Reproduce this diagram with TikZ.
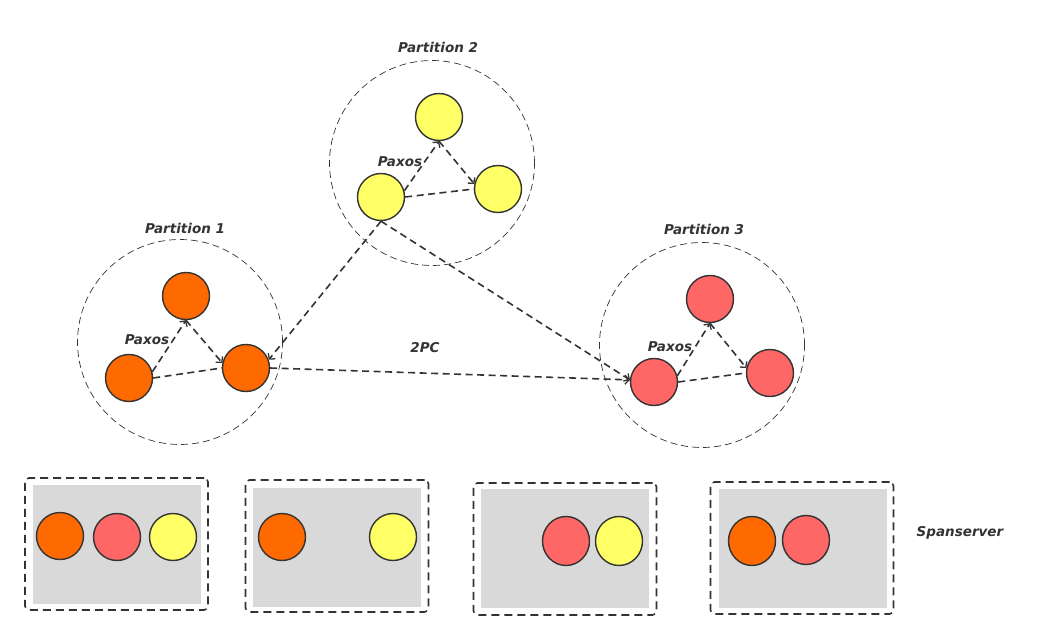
\documentclass[tikz,border=0pt]{standalone}
\usepackage{fontspec}
\setmainfont{DejaVu Sans}
\usetikzlibrary{arrows.meta,shapes.geometric}
\definecolor{cOrange}{HTML}{FF6A00}
\definecolor{cRed}{HTML}{FF6666}
\definecolor{cYellow}{HTML}{FFFF66}
\definecolor{cGray}{HTML}{D9D9D9}
\definecolor{cInk}{HTML}{333333}
\begin{document}
\begin{tikzpicture}[x=1pt,y=-1pt,
  rep/.style={circle,draw=cInk,line width=1.4pt,minimum size=47pt,inner sep=0pt},
  orng/.style={rep,fill=cOrange},
  redn/.style={rep,fill=cRed},
  yell/.style={rep,fill=cYellow},
  ovl/.style={ellipse,draw=cInk,line width=1.4pt,minimum width=47pt,minimum height=49pt,inner sep=0pt},
  part/.style={circle,draw=cInk,line width=0.7pt,dash pattern=on 7pt off 4pt,minimum size=205pt,inner sep=0pt},
  lbl/.style={font=\fontsize{13.5}{15}\selectfont\bfseries\itshape,text=cInk},
  flow/.style={draw=cInk,line width=1.6pt,dash pattern=on 7pt off 4.5pt},
  tip/.style={-{Straight Barb[length=4pt,width=9pt,line width=1.3pt]}},
  outbox/.style={draw=cInk,line width=1.6pt,dash pattern=on 8pt off 5pt,rounded corners=4pt,minimum width=183pt,minimum height=132pt,inner sep=0pt},
  inbox/.style={fill=cGray,minimum width=168pt,minimum height=119pt,inner sep=0pt}]
\useasboundingbox (0,0) rectangle (1044,639);

% partitions
\node[part] (P1) at (180,342) {};
\node[part] (P2) at (432,163) {};
\node[part] (P3) at (702,345) {};
\node[lbl] (L1) at (185,228) {Partition 1};
\node[lbl] (L2) at (438,47) {Partition 2};
\node[lbl] (L3) at (704,229) {Partition 3};

% partition 1
\node[orng] (o1t) at (186,296) {};
\node[orng] (o1l) at (129,378) {};
\node[orng] (o1r) at (246,368) {};
\node[lbl] (x1) at (147,340) {Paxos};
% partition 2
\node[yell] (y2t) at (439,117) {};
\node[yell] (y2l) at (381,197) {};
\node[yell] (y2r) at (498,189) {};
\node[lbl] (x2) at (400,162) {Paxos};
% partition 3
\node[redn] (r3t) at (710,299) {};
\node[redn] (r3l) at (654,382) {};
\node[redn] (r3r) at (770,373) {};
\node[lbl] (x3) at (670,347) {Paxos};

% paxos links
\foreach \a/\b/\c in {o1l/o1t/o1r, y2l/y2t/y2r, r3l/r3t/r3r}{
  \draw[flow,tip] (\a.15) -- (\b.south);
  \draw[flow,tip] (\b.south) -- (\c.168);
  \draw[flow] (\a.east) -- (\c.west);
}

% 2PC links
\draw[flow,tip] (y2l.south) -- (o1r.20);
\draw[flow,tip] (y2l.south) -- (r3l.175);
\draw[flow,tip] (o1r.east) -- (r3l.175);
\node[lbl] (pc) at (425,348) {2PC};

% spanservers
\node[outbox] (s1) at (116.5,544) {};
\node[inbox] (g1) at (116.5,544.5) {};
\node[orng] (s1a) at (60,536) {};
\node[redn] (s1b) at (117,537) {};
\node[yell] (s1c) at (173,537) {};

\node[outbox] (s2) at (337,546) {};
\node[inbox] (g2) at (337,547) {};
\node[orng] (s2a) at (282,537) {};
\node[yell] (s2c) at (393,537) {};

\node[outbox] (s3) at (565,549) {};
\node[inbox] (g3) at (565,548.5) {};
\node[ovl,fill=cRed] (s3b) at (566,541) {};
\node[ovl,fill=cYellow] (s3c) at (619,541) {};

\node[outbox] (s4) at (802,548) {};
\node[inbox] (g4) at (802.5,548) {};
\node[ovl,fill=cOrange] (s4a) at (752,541) {};
\node[ovl,fill=cRed] (s4b) at (806,540) {};

\node[lbl] (sp) at (960,533) {Spanserver};
\end{tikzpicture}
\end{document}
